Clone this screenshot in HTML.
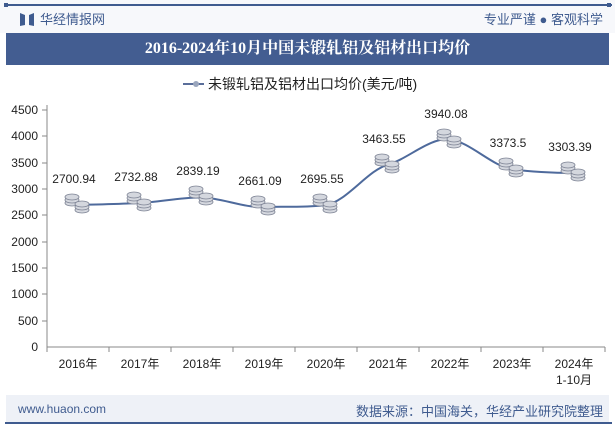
<!DOCTYPE html><html><head><meta charset="utf-8"><style>
body{margin:0;width:615px;height:427px;background:#fff;overflow:hidden;font-family:"Liberation Sans","Noto Sans CJK SC",sans-serif;position:relative}
.a{position:absolute}
</style></head><body>
<div class="a" style="left:0;top:0;width:615px;height:33px;background:#f7f8fb"></div>
<div class="a" style="left:5px;top:4px;width:607px;height:2px;background:#3f5b8f"></div>
<div class="a" style="left:4px;top:3px;width:4px;height:4px;background:#3f5b8f"></div>
<div class="a" style="left:607px;top:3px;width:4px;height:4px;background:#3f5b8f"></div>
<svg class="a" style="left:20px;top:12px" width="14" height="14"><polygon points="0,1 5,3 5,13 0,14" fill="#3f5b8f"/><polygon points="14,1 9,3 9,13 14,14" fill="#3f5b8f"/></svg>
<div class="a" style="left:40px;top:9px;font-size:13px;color:#3f5b8f">华经情报网</div>
<div class="a" style="right:12px;top:9px;font-size:13px;color:#3f5b8f">专业严谨 ● 客观科学</div>
<div class="a" style="left:6px;top:33px;width:603px;height:32px;background:#435d91;color:#fff;font:bold 16px 'Liberation Serif','Noto Serif CJK SC',serif;text-align:center;line-height:32px">2016-2024年10月中国未锻轧铝及铝材出口均价</div>
<svg class="a" style="left:0;top:0" width="615" height="427">
<line x1="183" y1="84" x2="204" y2="84" stroke="#5a6e9a" stroke-width="2"/><circle cx="196" cy="84" r="3" fill="#9aa6bd"/>
<text x="208" y="89" font-size="14" fill="#222" font-family="Liberation Sans,Noto Sans CJK SC,sans-serif">未锻轧铝及铝材出口均价(美元/吨)</text>
<g font-size="12" fill="#222" text-anchor="end" font-family="Liberation Sans,sans-serif">
<text x="38" y="114">4500</text><text x="38" y="140">4000</text><text x="38" y="167">3500</text><text x="38" y="193">3000</text><text x="38" y="219">2500</text><text x="38" y="246">2000</text><text x="38" y="272">1500</text><text x="38" y="298">1000</text><text x="38" y="325">500</text><text x="38" y="351">0</text>
</g>
<g stroke="#888" stroke-width="1">
<line x1="47" y1="105" x2="47" y2="347"/><line x1="47" y1="347" x2="605" y2="347"/>
<line x1="42" y1="110" x2="47" y2="110"/><line x1="42" y1="136" x2="47" y2="136"/><line x1="42" y1="163" x2="47" y2="163"/><line x1="42" y1="189" x2="47" y2="189"/><line x1="42" y1="215" x2="47" y2="215"/><line x1="42" y1="242" x2="47" y2="242"/><line x1="42" y1="268" x2="47" y2="268"/><line x1="42" y1="294" x2="47" y2="294"/><line x1="42" y1="321" x2="47" y2="321"/>
<line x1="47" y1="347" x2="47" y2="352"/><line x1="109" y1="347" x2="109" y2="352"/><line x1="171" y1="347" x2="171" y2="352"/><line x1="233" y1="347" x2="233" y2="352"/><line x1="295" y1="347" x2="295" y2="352"/><line x1="357" y1="347" x2="357" y2="352"/><line x1="419" y1="347" x2="419" y2="352"/><line x1="481" y1="347" x2="481" y2="352"/><line x1="543" y1="347" x2="543" y2="352"/><line x1="605" y1="347" x2="605" y2="352"/>
</g>
<g font-size="12" fill="#222" text-anchor="middle" font-family="Liberation Sans,Noto Sans CJK SC,sans-serif">
<text x="78" y="368">2016年</text><text x="140" y="368">2017年</text><text x="202" y="368">2018年</text><text x="264" y="368">2019年</text><text x="326" y="368">2020年</text><text x="388" y="368">2021年</text><text x="450" y="368">2022年</text><text x="512" y="368">2023年</text><text x="574" y="368">2024年</text><text x="574" y="384">1-10月</text>
</g>
<path d="M78,205 C98,204.5 120,204 140,203 C160,202 182,197 202,197.5 C222,198 244,208 264,207 C284,206 306,208 326,205 C346,202 368,170 388,164.6 C408,159 430,137 450,139.5 C470,142 492,166 512,169.3 C532,172 554,173 574,173" fill="none" stroke="#4e6a9c" stroke-width="2"/>
<defs><g id="c"><g fill="#d4d7de" stroke="#7d8394" stroke-width="0.8">
<ellipse cx="-6" cy="0" rx="7" ry="3"/><ellipse cx="-6" cy="-3" rx="7" ry="3"/><ellipse cx="-6" cy="-6" rx="7" ry="3"/>
<ellipse cx="4" cy="7" rx="7" ry="3"/><ellipse cx="4" cy="4" rx="7" ry="3"/><ellipse cx="4" cy="1" rx="7" ry="3"/></g></g></defs>
<use href="#c" x="78" y="203"/><use href="#c" x="140" y="201"/><use href="#c" x="202" y="195"/><use href="#c" x="264" y="205"/><use href="#c" x="326" y="203"/><use href="#c" x="388" y="163"/><use href="#c" x="450" y="138"/><use href="#c" x="512" y="167"/><use href="#c" x="574" y="171"/>
<g font-size="12" fill="#222" text-anchor="middle" font-family="Liberation Sans,sans-serif">
<text x="74" y="183">2700.94</text><text x="136" y="181">2732.88</text><text x="198" y="175">2839.19</text><text x="260" y="185">2661.09</text><text x="322" y="183">2695.55</text><text x="384" y="143">3463.55</text><text x="446" y="118">3940.08</text><text x="508" y="147">3373.5</text><text x="570" y="151">3303.39</text>
</g>
</svg>
<div class="a" style="left:6px;top:395px;width:603px;height:28px;background:#eef1f7"></div>
<div class="a" style="left:5px;top:422px;width:607px;height:2px;background:#3f5b8f"></div>
<div class="a" style="left:18px;top:402px;font-size:12px;color:#3f5b8f">www.huaon.com</div>
<div class="a" style="right:12px;top:401px;font-size:13px;color:#3f5b8f">数据来源：中国海关，华经产业研究院整理</div>
</body></html>
